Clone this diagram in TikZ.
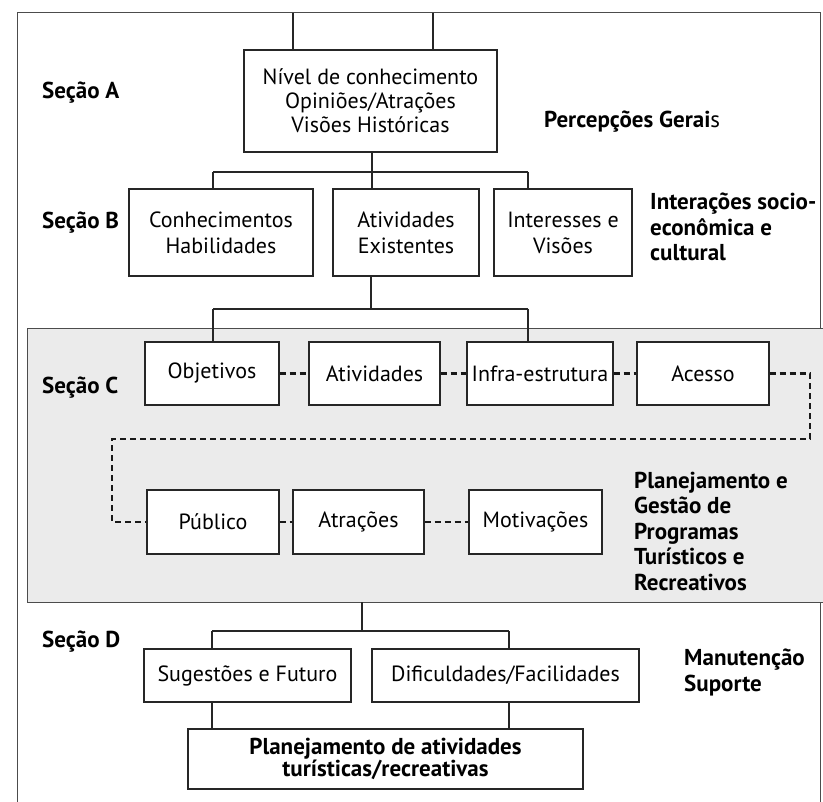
\documentclass[tikz,border=0pt]{standalone}
\usepackage{fontspec}
\setmainfont{PT Sans}
\begin{document}
\begin{tikzpicture}[x=1pt,y=-1pt,
  every node/.style={font=\fontsize{22}{24}\selectfont},
  bx/.style={draw=black!85, line width=1.2pt, fill=white, inner sep=0pt, align=center, rectangle},
  lbl/.style={font=\fontsize{23}{25.5}\selectfont\bfseries, inner sep=0pt, align=left},
  con/.style={draw=black!85, line width=1.1pt},
  dsh/.style={draw=black!90, line width=2.6pt, dash pattern=on 6pt off 4pt},
  frame/.style={draw=black!70, line width=1pt}]
\useasboundingbox (0,0) rectangle (823,802);
\fill[white] (0,0) rectangle (823,802);
% outer frame
\draw[frame] (17,802) -- (17,13) -- (820,13) -- (820,329);
\draw[frame] (820,602) -- (820,802);
% section C shaded panel
\node[fill=black!8, draw=none, inner sep=0pt, minimum width=795pt, minimum height=273pt] (secC) at (425.5,465.5) {};
\draw[frame] (secC.north east) -- (secC.north west) -- (secC.south west) -- (secC.south east);

% Section A
\node[bx, minimum width=253pt, minimum height=102pt, font=\fontsize{22}{24}\selectfont] (A) at (370.5,101) {Nível de conhecimento\\Opiniões/Atrações\\Visões Históricas};
% Section B
\node[bx, minimum width=184pt, minimum height=87pt, font=\fontsize{22}{26}\selectfont] (B1) at (221,232.5) {Conhecimentos\\Habilidades};
\node[bx, minimum width=146pt, minimum height=87pt, font=\fontsize{22}{26}\selectfont] (B2) at (406,232.5) {Atividades\\Existentes};
\node[bx, minimum width=138pt, minimum height=87pt, font=\fontsize{22}{26}\selectfont] (B3) at (563,232.5) {Interesses e\\Visões};
% Section C row 1
\node[bx, minimum width=134pt, minimum height=63pt] (C1) at (212,373.5) {Objetivos};
\node[bx, minimum width=131pt, minimum height=63pt] (C2) at (374.5,373.5) {Atividades};
\node[bx, minimum width=146pt, minimum height=63pt] (C3) at (540,373.5) {Infra-estrutura};
\node[bx, minimum width=132pt, minimum height=63pt] (C4) at (703,373.5) {Acesso};
% Section C row 2
\node[bx, minimum width=132pt, minimum height=64pt] (P) at (213,522) {Público};
\node[bx, minimum width=131pt, minimum height=64pt] (At) at (358.5,522) {Atrações};
\node[bx, minimum width=133pt, minimum height=64pt] (Mo) at (535.5,522) {Motivações};
% Section D
\node[bx, minimum width=207pt, minimum height=53pt] (D1) at (247.5,675.5) {Sugestões e Futuro};
\node[bx, minimum width=267pt, minimum height=53pt] (D2) at (505.5,675.5) {Dificuldades/Facilidades};
\node[bx, minimum width=395pt, minimum height=60pt, font=\fontsize{23}{22}\selectfont\bfseries] (E) at (385.5,759) {Planejamento de atividades\\turísticas/recreativas};

% labels
\node[lbl, anchor=west] (sA) at (42,93) {Seção A};
\node[lbl, anchor=west] (sB) at (42,223) {Seção B};
\node[lbl, anchor=west] (sC) at (42,388) {Seção C};
\node[lbl, anchor=west] (sD) at (42,642) {Seção D};
\node[lbl, anchor=west] (pg) at (544,122) {Percepções Gerai\mdseries s};
\node[lbl, anchor=west] (is) at (650,227) {Interações socio-\\econômica e\\cultural};
\node[lbl, anchor=west] (pl) at (634,531) {Planejamento e\\Gestão de\\Programas\\Turísticos e\\Recreativos};
\node[lbl, anchor=west] (mt) at (684,672.5) {Manutenção\\Suporte};

% connectors: top
\coordinate (t1) at (293,13);
\coordinate (t2) at (433,13);
\draw[con] (t1) -- (t1 |- A.north);
\draw[con] (t2) -- (t2 |- A.north);
% A -> B
\coordinate (jA) at (372,172);
\coordinate (jAl) at (213,172);
\coordinate (jAr) at (528,172);
\draw[con] (A.south -| jA) -- (jA);
\draw[con] (jAl) -- (jAr);
\draw[con] (jAl) -- (jAl |- B1.north);
\draw[con] (jA) -- (jA |- B2.north);
\draw[con] (jAr) -- (jAr |- B3.north);
% B -> C
\coordinate (jB) at (371,309);
\coordinate (jBl) at (213,309);
\coordinate (jBr) at (528,309);
\draw[con] (B2.south -| jB) -- (jB);
\draw[con] (jBl) -- (jBr);
\draw[con] (jBl) -- (jBl |- C1.north);
\draw[con] (jBr) -- (jBr |- C3.north);
% C dashed chain
\draw[dsh] (C1.east) -- (C2.west);
\draw[dsh] (C2.east) -- (C3.west);
\draw[dsh] (C3.east) -- (C4.west);
\coordinate (r1) at (810,439);
\coordinate (l1) at (112,439);
\draw[dsh] (C4.east) -| (r1) -- (l1) |- (P.west);
\draw[dsh] (P.east) -- (At.west);
\draw[dsh] (At.east) -- (Mo.west);
% C -> D
\coordinate (jC) at (362,631);
\coordinate (jCl) at (212,631);
\coordinate (jCr) at (509,631);
\draw[con] (secC.south -| jC) -- (jC);
\draw[con] (jCl) -- (jCr);
\draw[con] (jCl) -- (jCl |- D1.north);
\draw[con] (jCr) -- (jCr |- D2.north);
% D -> E
\draw[con] (D1.south -| jCl) -- (jCl |- E.north);
\draw[con] (D2.south -| jCr) -- (jCr |- E.north);
\end{tikzpicture}
\end{document}
